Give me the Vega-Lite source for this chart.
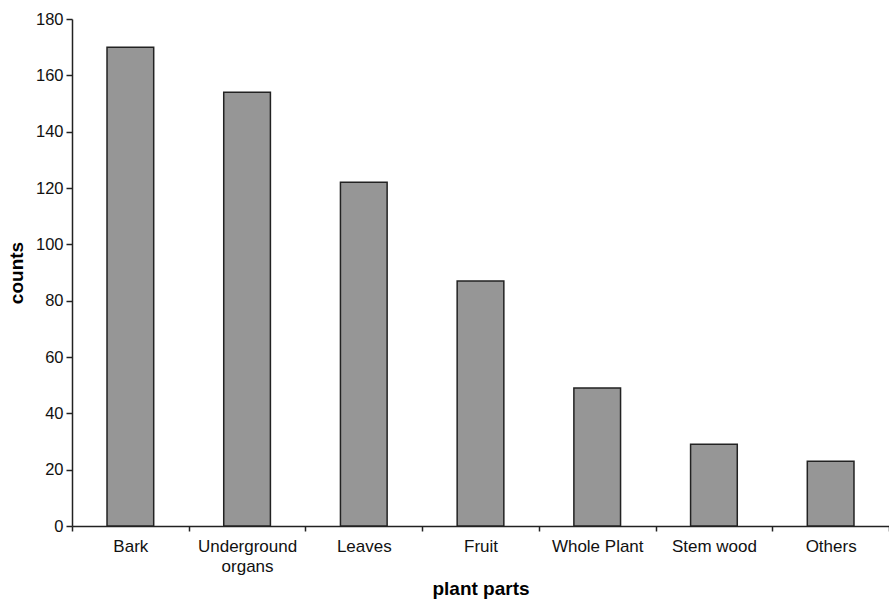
{
  "$schema": "https://vega.github.io/schema/vega-lite/v6.json",
  "width": 817,
  "height": 507,
  "autosize": {"type": "none"},
  "padding": {"left": 72, "top": 19, "right": 0, "bottom": 73},
  "background": "white",
  "config": {
    "view": {"stroke": null},
    "font": "Liberation Sans",
    "axis": {"domainColor": "#222222", "tickColor": "#222222", "labelColor": "#111111", "titleColor": "#000000", "domainWidth": 1.5, "tickWidth": 1.5}
  },
  "data": {
    "values": [
      {"part": "Bark", "counts": 170},
      {"part": "Underground organs", "counts": 154},
      {"part": "Leaves", "counts": 122},
      {"part": "Fruit", "counts": 87},
      {"part": "Whole Plant", "counts": 49},
      {"part": "Stem wood", "counts": 29},
      {"part": "Others", "counts": 23}
    ]
  },
  "mark": {"type": "bar", "fill": "#969696", "stroke": "#222222", "strokeWidth": 1.5, "width": {"band": 0.4}},
  "encoding": {
    "x": {
      "field": "part",
      "type": "nominal",
      "sort": null,
      "scale": {"paddingInner": 0, "paddingOuter": 0},
      "axis": {
        "title": "plant parts",
        "titleFontSize": 19,
        "titleFontWeight": "bold",
        "titlePadding": 5,
        "labelAngle": 0,
        "labelFontSize": 17,
        "labelPadding": 7,
        "labelExpr": "datum.value == 'Underground organs' ? ['Underground', 'organs'] : datum.value",
        "labelLineHeight": 20,
        "tickBand": "extent",
        "tickSize": 5
      }
    },
    "y": {
      "field": "counts",
      "type": "quantitative",
      "scale": {"domain": [0, 180]},
      "axis": {
        "title": "counts",
        "titleFontSize": 19,
        "titleFontWeight": "bold",
        "titlePadding": 9,
        "grid": false,
        "values": [0, 20, 40, 60, 80, 100, 120, 140, 160, 180],
        "labelFontSize": 16.5,
        "labelPadding": 3,
        "tickSize": 6
      }
    }
  }
}
